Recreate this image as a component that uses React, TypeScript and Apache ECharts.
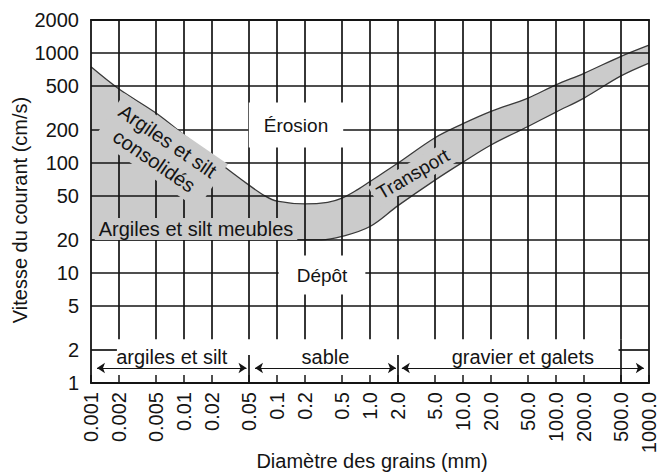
import React, { useEffect, useRef } from 'react';
import * as echarts from 'echarts';

// ---- axes / ticks ----
const xMin = 0.001;
const xMax = 1000;
const yMin = 1;
const yMax = 2000;
const xTickValues = [0.001, 0.002, 0.005, 0.01, 0.02, 0.05, 0.1, 0.2, 0.5, 1, 2, 5, 10, 20, 50, 100, 200, 500, 1000];
const xTickLabels = ['0.001', '0.002', '0.005', '0.01', '0.02', '0.05', '0.1', '0.2', '0.5', '1.0', '2.0', '5.0', '10.0', '20.0', '50.0', '100.0', '200.0', '500.0', '1000.0'];
const yTickValues = [1, 2, 5, 10, 20, 50, 100, 200, 500, 1000, 2000];
const yTickLabels = ['1', '2', '5', '10', '20', '50', '100', '200', '500', '1000', '2000'];

// ---- curves (grain size mm, velocity cm/s) ----
const erosionSizes = [0.001, 0.002, 0.005, 0.01, 0.02, 0.05, 0.075, 0.1, 0.2, 0.35, 0.5, 0.75, 1, 2, 5, 10, 20, 50, 100, 200, 500, 1000];
const erosionVelocity = [750, 471, 285, 180, 113, 63, 50, 45, 42.5, 44, 48, 58, 68, 100, 170, 228, 295, 390, 515, 655, 935, 1183];
const depositSizes = [0.001, 0.3, 0.5, 1, 2, 5, 10, 20, 50, 100, 200, 500, 1000];
const depositVelocity = [20, 20, 21.5, 26.5, 41, 70, 102, 146, 215, 291, 390, 620, 811];

// ---- grid lines ----
const gridXValues = [0.002, 0.005, 0.01, 0.02, 0.05, 0.1, 0.2, 0.5, 1, 2, 5, 10, 20, 50, 100, 200, 500];
const gridYValues = [5, 10, 20, 50, 100, 200, 500, 1000];
const gridFloor = 2.5;
const dividerSizes = [0.05, 2];
const dividerTop = 1.8;
const fullHeightSizes = [500];
const twoLineSegments = [[0.001, 0.0019], [470, 1000]];
const twoLineVelocity = 2;

// ---- size classes ----
const zoneNames = ['argiles et silt', 'sable', 'gravier et galets'];
const zoneStarts = [0.00116, 0.058, 2.2];
const zoneEnds = [0.047, 1.9, 880];
const zoneArrowVelocity = 1.37;

const font = 'Liberation Sans, Arial, Helvetica, sans-serif';
const ink = '#141414';
const bandGrey = '#cbcbcb';

function fmt(values: number[], labels: string[]) {
  return (val: number) => {
    for (let i = 0; i < values.length; i++) {
      if (Math.abs(Math.log10(val) - Math.log10(values[i])) < 1e-6) return labels[i];
    }
    return '';
  };
}

function buildOption() {
  const seg = (a: [number, number], b: [number, number]) => [{ coord: a }, { coord: b }];
  const gridLines: any[] = [];
  gridYValues.forEach(v => gridLines.push(seg([xMin, v], [xMax, v])));
  gridXValues.forEach(x => gridLines.push(seg([x, gridFloor], [x, yMax])));
  dividerSizes.forEach(x => gridLines.push(seg([x, yMin], [x, dividerTop])));
  fullHeightSizes.forEach(x => gridLines.push(seg([x, yMin], [x, gridFloor])));
  twoLineSegments.forEach(s => gridLines.push(seg([s[0], twoLineVelocity], [s[1], twoLineVelocity])));

  const arrows = zoneNames.map((n, i) => [
    { coord: [zoneStarts[i], zoneArrowVelocity], name: n },
    { coord: [zoneEnds[i], zoneArrowVelocity] },
  ]);

  const textBase = { fontFamily: font, fill: ink, align: 'center', verticalAlign: 'middle' };

  return {
    animation: false,
    backgroundColor: '#ffffff',
    grid: { left: 91, right: 7, top: 20, bottom: 89, show: false },
    xAxis: [
      {
        type: 'log', logBase: 10, min: xMin, max: xMax, position: 'bottom', z: 10,
        axisLine: { show: true, onZero: false, lineStyle: { color: ink, width: 1.8 } },
        axisTick: { show: true, inside: true, length: 8, customValues: xTickValues, lineStyle: { color: ink, width: 1.5 } },
        axisLabel: { show: true, customValues: xTickValues, rotate: 90, margin: 9, formatter: fmt(xTickValues, xTickLabels), fontSize: 20, fontFamily: font, color: ink },
        splitLine: { show: false }, minorTick: { show: false }, minorSplitLine: { show: false },
      },
      {
        type: 'log', logBase: 10, min: xMin, max: xMax, position: 'top', z: 10,
        axisLine: { show: true, onZero: false, lineStyle: { color: ink, width: 1.8 } },
        axisTick: { show: false }, axisLabel: { show: false }, splitLine: { show: false },
      },
    ],
    yAxis: [
      {
        type: 'log', logBase: 10, min: yMin, max: yMax, position: 'left', z: 10,
        axisLine: { show: true, onZero: false, lineStyle: { color: ink, width: 1.8 } },
        axisTick: { show: false },
        axisLabel: { show: true, customValues: yTickValues, margin: 12, formatter: fmt(yTickValues, yTickLabels), fontSize: 20, fontFamily: font, color: ink },
        splitLine: { show: false }, minorTick: { show: false },
      },
      {
        type: 'log', logBase: 10, min: yMin, max: yMax, position: 'right', z: 10,
        axisLine: { show: true, onZero: false, lineStyle: { color: ink, width: 1.8 } },
        axisTick: { show: false }, axisLabel: { show: false }, splitLine: { show: false },
      },
    ],
    series: [
      {
        type: 'line', name: 'Érosion', xAxisIndex: 0, yAxisIndex: 0, z: 2,
        data: erosionSizes.map((x, i) => [x, erosionVelocity[i]]),
        smooth: 0.35, symbol: 'none', silent: true,
        lineStyle: { color: '#3a3a3a', width: 1.3 },
        areaStyle: { color: bandGrey, opacity: 1, origin: 'start' },
        markLine: {
          silent: true, symbol: 'none', animation: false,
          label: { show: false },
          emphasis: { disabled: true },
          lineStyle: { color: ink, width: 1.7, type: 'solid' },
          data: gridLines,
        },
      },
      {
        type: 'line', name: 'Dépôt', xAxisIndex: 0, yAxisIndex: 0, z: 3,
        data: depositSizes.map((x, i) => [x, depositVelocity[i]]),
        smooth: 0.35, symbol: 'none', silent: true,
        lineStyle: { color: '#3a3a3a', width: 1.3 },
        areaStyle: { color: '#ffffff', opacity: 1, origin: 'start' },
        markLine: {
          silent: true, symbol: ['arrow', 'arrow'], symbolSize: [8, 8], animation: false,
          emphasis: { disabled: true },
          lineStyle: { color: ink, width: 1.2, type: 'solid' },
          label: {
            show: true, position: 'insideMiddleTop', distance: 1, formatter: '{b}',
            fontSize: 20, fontFamily: font, color: ink,
          },
          data: arrows,
        },
      },
    ],
    graphic: [
      { type: 'text', x: 20, y: 210, rotation: Math.PI / 2, z: 100, style: { ...textBase, text: 'Vitesse du courant (cm/s)', fontSize: 20 } },
      { type: 'text', x: 372, y: 461, z: 100, style: { ...textBase, text: 'Diamètre des grains (mm)', fontSize: 20 } },
      { type: 'text', x: 296, y: 125, z: 100, style: { ...textBase, text: 'Érosion', fontSize: 19, backgroundColor: '#ffffff', padding: [13, 15, 13, 15] } },
      { type: 'text', x: 322, y: 275, z: 100, style: { ...textBase, text: 'Dépôt', fontSize: 19, backgroundColor: '#ffffff', padding: [10, 18, 10, 18] } },
      { type: 'text', x: 413, y: 174, rotation: 0.53, z: 100, style: { ...textBase, text: 'Transport', fontSize: 19, backgroundColor: bandGrey, padding: [2, 5, 2, 5] } },
      { type: 'text', x: 161, y: 151, rotation: -0.6, z: 100, style: { ...textBase, text: 'Argiles et silt\nconsolidés', fontSize: 20, lineHeight: 24, backgroundColor: bandGrey, padding: [3, 6, 3, 6] } },
      { type: 'text', x: 196, y: 229, z: 100, style: { ...textBase, text: 'Argiles et silt meubles', fontSize: 20, backgroundColor: bandGrey, padding: [1, 4, 1, 4] } },
    ],
  };
}

export default function App() {
  const ref = useRef<HTMLDivElement>(null);
  useEffect(() => {
    if (!ref.current) return;
    const chart = echarts.init(ref.current, null, { renderer: 'svg' });
    chart.setOption(buildOption() as any);
    return () => chart.dispose();
  }, []);
  return (
    <div
      ref={ref}
      style={{ position: 'fixed', left: 0, top: 0, width: 659, height: 472, background: '#ffffff' }}
    />
  );
}
